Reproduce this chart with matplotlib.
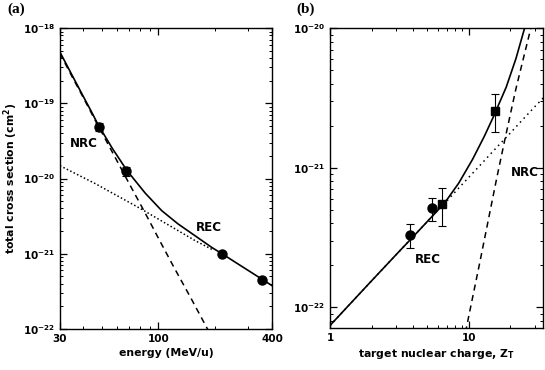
import matplotlib
matplotlib.use("Agg")
import matplotlib.pyplot as plt
import numpy as np

plt.rcParams['font.family'] = 'DejaVu Sans'
plt.rcParams['font.weight'] = 'bold'
plt.rcParams['axes.labelweight'] = 'bold'
plt.rcParams['mathtext.default'] = 'bf'
plt.rcParams['mathtext.fontset'] = 'dejavusans'

# ---- panel (a): cross section vs energy ----
e_pts = [48.5, 67, 218, 354]
s_pts = [4.9e-20, 1.24e-20, 1.0e-21, 4.5e-22]
s_err_lo = [0.55e-20, 0.17e-20, 0, 0]
s_err_hi = [0.65e-20, 0.20e-20, 0, 0]

e_nrc = [30, 35, 40, 45, 50, 60, 70, 80, 90, 100, 120, 150, 180, 190]
s_nrc = [4.6e-19, 2.2e-19, 1.18e-19, 6.7e-20, 4.1e-20, 1.75e-20, 8.5e-21,
         4.6e-21, 2.65e-21, 1.6e-21, 6.8e-22, 2.46e-22, 1.05e-22, 8.1e-23]

e_rec = [30, 46, 80, 156, 195]
s_rec = [1.48e-20, 8.6e-21, 4.0e-21, 1.5e-21, 1.12e-21]

e_tot = [30, 35, 40, 44, 48, 57, 68, 85, 104, 127, 156, 192, 220, 260, 300, 350, 400]
s_tot = [4.8e-19, 2.3e-19, 1.22e-19, 7.8e-20, 5.1e-20, 2.5e-20, 1.28e-20,
         6.4e-21, 3.74e-21, 2.49e-21, 1.74e-21, 1.21e-21, 9.8e-22,
         7.5e-22, 5.97e-22, 4.67e-22, 3.77e-22]

# ---- panel (b): cross section vs target Z ----
z_circ = [3.8, 5.45]
s_circ = [3.3e-22, 5.1e-22]
s_circ_lo = [0.65e-22, 0.95e-22]
s_circ_hi = [0.65e-22, 0.95e-22]
z_sq = [6.4, 15.6]
s_sq = [5.5e-22, 2.55e-21]
s_sq_lo = [1.7e-22, 0.75e-21]
s_sq_hi = [1.6e-22, 0.85e-21]

z_rec = [1, 2, 3, 4, 5, 6, 7, 8, 10, 12, 15, 20, 25, 30, 35]
sz_rec = [7.4e-23, 1.55e-22, 2.38e-22, 3.22e-22, 4.08e-22, 4.95e-22, 5.8e-22,
          6.7e-22, 8.5e-22, 1.03e-21, 1.31e-21, 1.77e-21, 2.25e-21, 2.73e-21, 3.2e-21]

z_nrc = [9.5, 10, 12, 14, 16, 18, 20, 22, 25, 28.5]
sz_nrc = [6.6e-23, 8.5e-23, 2.05e-22, 4.4e-22, 8.5e-22, 1.48e-21, 2.4e-21,
          3.7e-21, 6.2e-21, 1.05e-20]

z_tot = [1, 2, 3, 4, 5, 6, 7, 8.5, 10.7, 13, 15, 18.7, 22, 25.3, 26]
sz_tot = [7.4e-23, 1.55e-22, 2.38e-22, 3.22e-22, 4.08e-22, 4.95e-22, 5.92e-22,
          7.76e-22, 1.15e-21, 1.68e-21, 2.28e-21, 3.78e-21, 6.07e-21,
          9.9e-21, 1.1e-20]

fig = plt.figure(figsize=(5.45, 3.7), dpi=100)
ax1 = fig.add_axes([0.110, 0.111, 0.389, 0.813])
ax2 = fig.add_axes([0.6055, 0.1135, 0.391, 0.8105])

tick_fs = 7.5


def style_axes(ax):
    ax.tick_params(which='both', direction='in', top=True, right=True, labelsize=tick_fs)
    ax.tick_params(which='major', length=5, width=0.9)
    ax.tick_params(which='minor', length=2.5, width=0.7)
    ax.xaxis.set_minor_locator(matplotlib.ticker.LogLocator(base=10, subs=np.arange(2, 10)))
    ax.xaxis.set_minor_formatter(matplotlib.ticker.NullFormatter())
    ax.yaxis.set_minor_locator(matplotlib.ticker.LogLocator(base=10, subs=np.arange(2, 10), numticks=20))
    ax.yaxis.set_minor_formatter(matplotlib.ticker.NullFormatter())
    for sp in ax.spines.values():
        sp.set_linewidth(1.0)


# panel (a)
ax1.plot(e_tot, s_tot, color='black', lw=1.2)
ax1.plot(e_nrc, s_nrc, color='black', lw=1.1, ls=(0, (4, 3)))
ax1.plot(e_rec, s_rec, color='black', lw=1.1, ls=(0, (1, 1.5)))
ax1.errorbar(e_pts, s_pts, yerr=[s_err_lo, s_err_hi], fmt='o', color='black',
             ms=6.5, capsize=3, elinewidth=0.8, capthick=0.8)
ax1.set_xscale('log')
ax1.set_yscale('log')
ax1.set_xlim(30, 400)
ax1.set_ylim(1e-22, 1e-18)
ax1.set_xticks([30, 100, 400])
ax1.set_xticklabels(['30', '100', '400'])
ax1.set_yticks([1e-22, 1e-21, 1e-20, 1e-19, 1e-18])
ax1.set_yticklabels(['10$^{-22}$', '10$^{-21}$', '10$^{-20}$', '10$^{-19}$', '10$^{-18}$'])
style_axes(ax1)
ax1.set_xlabel('energy (MeV/u)', fontsize=7.8, labelpad=3)
ax1.set_ylabel('total cross section (cm$^2$)', fontsize=7.8, labelpad=2)
ax1.text(40.2, 2.93e-20, 'NRC', fontsize=8.6, ha='center', va='center')
ax1.text(185, 2.22e-21, 'REC', fontsize=8.6, ha='center', va='center')

# panel (b)
ax2.plot(z_tot, sz_tot, color='black', lw=1.2)
ax2.plot(z_nrc, sz_nrc, color='black', lw=1.1, ls=(0, (4, 3)))
ax2.plot(z_rec, sz_rec, color='black', lw=1.1, ls=(0, (1, 2.5)))
ax2.errorbar(z_circ, s_circ, yerr=[s_circ_lo, s_circ_hi], fmt='o', color='black',
             ms=6.5, capsize=3, elinewidth=0.8, capthick=0.8)
ax2.errorbar(z_sq, s_sq, yerr=[s_sq_lo, s_sq_hi], fmt='s', color='black',
             ms=5.5, capsize=3, elinewidth=0.8, capthick=0.8)
ax2.set_xscale('log')
ax2.set_yscale('log')
ax2.set_xlim(1, 34.5)
ax2.set_ylim(7.1e-23, 1e-20)
ax2.set_xticks([1, 10])
ax2.set_xticklabels(['1', '10'])
ax2.set_yticks([1e-22, 1e-21, 1e-20])
ax2.set_yticklabels(['10$^{-22}$', '10$^{-21}$', '10$^{-20}$'])
style_axes(ax2)
ax2.set_xlabel('target nuclear charge, Z$_{T}$', fontsize=7.8, labelpad=3)
ax2.text(25.3, 9.3e-22, 'NRC', fontsize=8.6, ha='center', va='center')
ax2.text(5.07, 2.2e-22, 'REC', fontsize=8.6, ha='center', va='center')

fig.text(7 / 545, 1 - 3 / 370, '(a)', fontsize=11, family='Liberation Serif',
         weight='bold', ha='left', va='top')
fig.text(296 / 545, 1 - 3 / 370, '(b)', fontsize=11, family='Liberation Serif',
         weight='bold', ha='left', va='top')

fig.savefig('out.png', dpi=100)
